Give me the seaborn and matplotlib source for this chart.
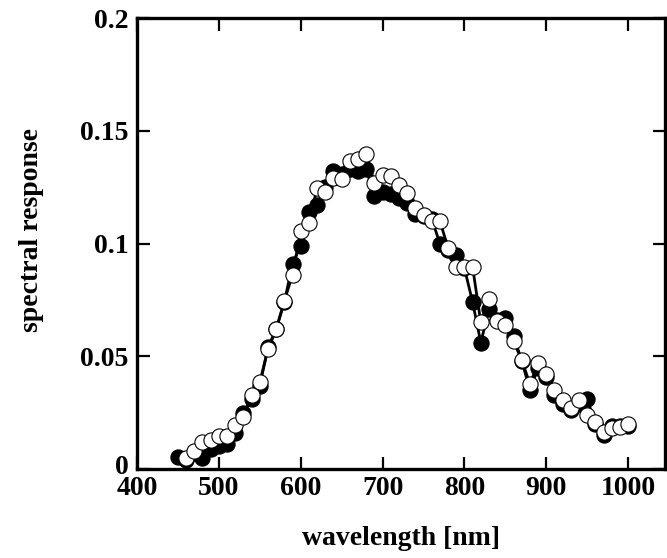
import numpy as np
import pandas as pd
import matplotlib
matplotlib.use("Agg")
import matplotlib.pyplot as plt
import matplotlib.transforms as mtransforms
import seaborn as sns

# ---- data ----
wl_filled = [450, 460, 470, 480, 490, 500, 510, 520, 530, 540, 550, 560, 570, 580, 590,
             600, 610, 620, 630, 640, 650, 660, 670, 680, 690, 700, 710, 720, 730, 740,
             750, 760, 770, 780, 790, 800, 810, 820, 830, 840, 850, 860, 870, 880, 890,
             900, 910, 920, 930, 940, 950, 960, 970, 980, 990, 1000]
resp_filled = [0.0055, 0.004, 0.007, 0.005, 0.009, 0.010, 0.011, 0.016, 0.025, 0.031, 0.037,
               0.054, 0.062, 0.074, 0.091, 0.099, 0.114, 0.117, 0.125, 0.132, 0.131, 0.133,
               0.132, 0.133, 0.121, 0.123, 0.122, 0.120, 0.118, 0.113, 0.112, 0.111, 0.100,
               0.097, 0.095, 0.089, 0.074, 0.056, 0.071, 0.066, 0.067, 0.059, 0.048, 0.035,
               0.045, 0.041, 0.033, 0.029, 0.026, 0.029, 0.031, 0.020, 0.015, 0.019, 0.019,
               0.019]

wl_open = [460, 470, 480, 490, 500, 510, 520, 530, 540, 550, 560, 570, 580, 590, 600,
           610, 620, 630, 640, 650, 660, 670, 680, 690, 700, 710, 720, 730, 740, 750,
           760, 770, 780, 790, 800, 810, 820, 830, 840, 850, 860, 870, 880, 890, 900,
           910, 920, 930, 940, 950, 960, 970, 980, 990, 1000]
resp_open = [0.005, 0.008, 0.012, 0.013, 0.0147, 0.0147, 0.0196, 0.0232, 0.0329, 0.0385,
             0.053, 0.062, 0.0745, 0.0862, 0.1055, 0.109, 0.1247, 0.123, 0.129, 0.1284,
             0.1366, 0.1373, 0.1396, 0.127, 0.1305, 0.130, 0.1258, 0.1223, 0.1156, 0.1127,
             0.110, 0.110, 0.098, 0.0895, 0.0895, 0.0895, 0.065, 0.0755, 0.0658, 0.064,
             0.0566, 0.0484, 0.0376, 0.047, 0.0423, 0.0351, 0.0307, 0.027, 0.0307, 0.024,
             0.021, 0.0166, 0.0181, 0.0188, 0.020]

x_ticks = [400, 500, 600, 700, 800, 900, 1000]
y_ticks = [0, 0.05, 0.1, 0.15, 0.2]
y_tick_labels = ["0", "0.05", "0.1", "0.15", "0.2"]

df_f = pd.DataFrame({"wavelength": wl_filled, "response": resp_filled, "series": "filled"})
df_o = pd.DataFrame({"wavelength": wl_open, "response": resp_open, "series": "open"})

sns.set_theme(style="ticks")
plt.rcParams["font.family"] = ["Liberation Serif", "DejaVu Serif"]
plt.rcParams["font.weight"] = "bold"
plt.rcParams["text.color"] = "black"
plt.rcParams["axes.labelcolor"] = "black"
plt.rcParams["xtick.color"] = "black"
plt.rcParams["ytick.color"] = "black"

fig = plt.figure(figsize=(6.67, 5.58), dpi=100)
ax = fig.add_axes([137/667, 1 - 469/558, (665 - 137)/667, (469 - 18)/558])

# lines
sns.lineplot(data=df_f, x="wavelength", y="response", color="black", linewidth=2.0,
             ax=ax, legend=False, zorder=2)
sns.lineplot(data=df_o, x="wavelength", y="response", color="black", linewidth=2.0,
             ax=ax, legend=False, zorder=2)
# markers
sns.scatterplot(data=df_f, x="wavelength", y="response", color="black", edgecolor="black",
                s=120, linewidth=0.8, ax=ax, legend=False, zorder=3)
sns.scatterplot(data=df_o, x="wavelength", y="response", color="white", edgecolor="black",
                s=120, linewidth=0.8, ax=ax, legend=False, zorder=4)

ax.set_xlim(400, 1045)
ax.set_ylim(0, 0.2)
ax.set_xticks(x_ticks)
ax.set_xticklabels([str(t) for t in x_ticks])
ax.set_yticks(y_ticks)
ax.set_yticklabels(y_tick_labels)

for sp in ax.spines.values():
    sp.set_visible(True)
    sp.set_linewidth(2.4)
    sp.set_color("black")

ax.tick_params(axis="both", which="major", direction="in", length=9, width=1.6,
               top=True, right=True, labelsize=20, colors="black")
ax.tick_params(axis="x", pad=5)
ax.tick_params(axis="y", pad=6)
for lab in ax.get_xticklabels() + ax.get_yticklabels():
    lab.set_fontweight("bold")
    lab.set_color("black")

# lift the y "0" label a few pixels so it sits above the "400" label
zero_lab = ax.get_yticklabels()[0]
zero_lab.set_transform(zero_lab.get_transform() +
                       mtransforms.ScaledTranslation(0, 5 / 100, fig.dpi_scale_trans))

ax.set_xlabel("wavelength [nm]", fontsize=20, fontweight="bold", color="black")
ax.set_ylabel("spectral response", fontsize=20, fontweight="bold", color="black")
ax.xaxis.set_label_coords(0.5, (469 - 526) / 451)
ax.yaxis.set_label_coords((32 - 137) / 528, (469 - 230) / 451)
ax.yaxis.label.set_va("center")
ax.xaxis.label.set_va("top")

fig.savefig("out.png", dpi=100, facecolor="white")
